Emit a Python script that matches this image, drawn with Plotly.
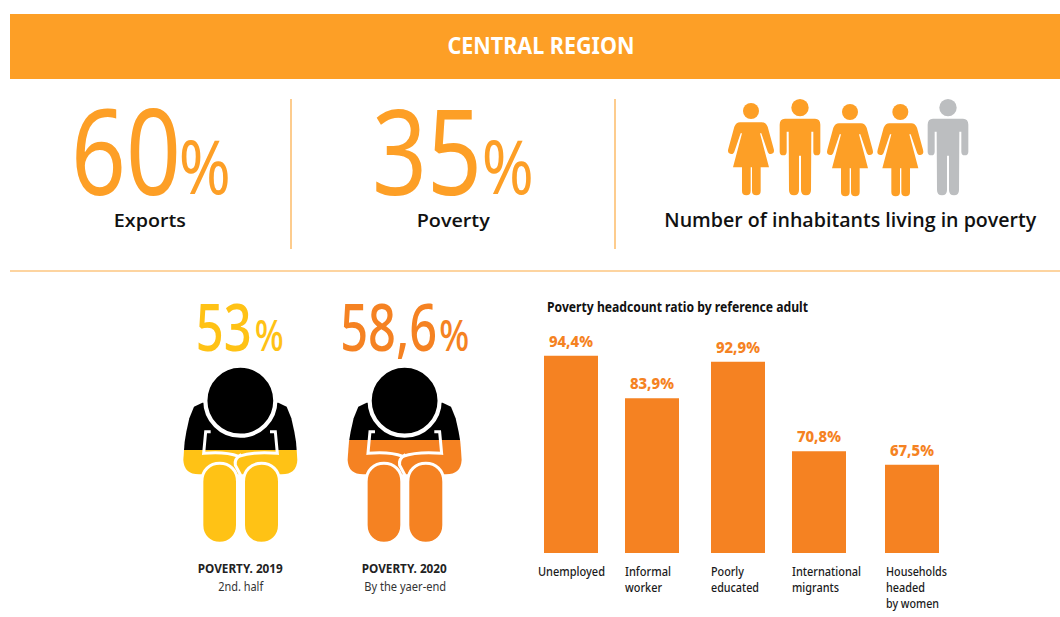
import json
import plotly.graph_objects as go

# ---------- data ----------
categories = [["Unemployed"], ["Informal", "worker"], ["Poorly", "educated"], ["International", "migrants"],
              ["Households", "headed", "by women"]]
poverty_ratio = [94.4, 83.9, 92.9, 70.8, 67.5]
ratio_labels = ["94,4%", "83,9%", "92,9%", "70,8%", "67,5%"]
headline_values = ["60", "35"]
headline_labels = ["Exports", "Poverty"]
poverty_years = ["53", "58,6"]
poverty_titles = ["POVERTY. 2019", "POVERTY. 2020"]
poverty_subtitles = ["2nd. half", "By the yaer-end"]

# ---------- layout constants (pixels) ----------
W, H = 1060, 617
ORANGE = "#FD9F26"
BAR = "#F58222"
YELLOW = "#FFC215"
GRAY = "#BCBEC0"
RULE = "#FCAA42"
NARROW = "Noto Sans"
WIDE = "Open Sans"
bar_centers = [571, 652, 738, 819, 912]
label_left = [536, 623, 709, 790, 884]
label_widths = [[67], [46, 37], [33, 48], [69, 47], [61, 39, 53]]
BASE_PX, TOP_PX = 553, 300
PX_PER_UNIT = 4.05
base_val = 45.7

fig = go.Figure()
fig.add_trace(go.Bar(
    x=bar_centers, y=poverty_ratio, width=54, marker=dict(color=BAR, line=dict(width=0)),
    yaxis="y2", hoverinfo="skip", showlegend=False))

shapes, annots, fits = [], [], []


def rect(x0, y0, x1, y1, color):
    shapes.append(dict(type="rect", xref="x", yref="y", x0=x0, y0=y0, x1=x1, y1=y1,
                       fillcolor=color, line=dict(width=0)))


def line(x0, y0, x1, y1, color=RULE, w=1.2):
    shapes.append(dict(type="line", xref="x", yref="y", x0=x0, y0=y0, x1=x1, y1=y1,
                       line=dict(color=color, width=w)))


def path(d, fill=None, stroke=None, w=0):
    shapes.append(dict(type="path", xref="x", yref="y", path=d,
                       fillcolor=fill if fill else "rgba(0,0,0,0)",
                       line=dict(color=stroke if stroke else "rgba(0,0,0,0)", width=w)))


def circle(cx, cy, r, fill, stroke=None, w=0):
    shapes.append(dict(type="circle", xref="x", yref="y", x0=cx - r, x1=cx + r, y0=cy - r, y1=cy + r,
                       fillcolor=fill, line=dict(color=stroke if stroke else "rgba(0,0,0,0)", width=w)))


def text(x, y, s, size, color, family=NARROW, weight="normal", anchor="center", fit=None):
    annots.append(dict(x=x, y=y, xref="x", yref="y", text=s, showarrow=False, xanchor=anchor,
                       yanchor="middle", align=anchor,
                       font=dict(family=family, size=size, color=color, weight=weight)))
    fits.append(fit)


def make_path(cmds, ox, oy, s=1 / 3):
    out = []
    for c in cmds:
        if c == "Z":
            out.append("Z")
            continue
        letter, nums = c[0], c[1:]
        coords = []
        for i in range(0, len(nums), 2):
            coords.append(f"{ox + nums[i] * s:.2f},{oy + nums[i + 1] * s:.2f}")
        out.append(letter + " " + " ".join(coords))
    return " ".join(out)


def woman(cz, dy, color):
    ox, oy = 720 + cz / 3, 90 + dy / 3
    d = [("M", -33, 97), ("L", 33, 97), ("Q", 44, 97, 50, 110), ("L", 68, 176), ("Q", 72, 190, 60, 192),
         ("Q", 52, 193, 49, 182), ("L", 31, 130), ("L", 27, 130), ("L", 54, 232), ("L", 29, 232), ("L", 29, 303),
         ("Q", 29, 316, 16, 316), ("Q", 3, 316, 3, 303), ("L", 3, 232), ("L", -1, 232), ("L", -1, 303),
         ("Q", -1, 316, -14, 316), ("Q", -27, 316, -27, 303), ("L", -27, 232), ("L", -54, 232), ("L", -27, 130),
         ("L", -31, 130), ("L", -49, 182), ("Q", -52, 193, -60, 192), ("Q", -72, 190, -68, 176), ("L", -50, 110),
         ("Q", -44, 97, -33, 97), "Z"]
    path(make_path(d, ox, oy), color)
    circle(ox, oy + 63 / 3, 8, color)


def man(cz, color):
    ox, oy = 720 + cz / 3, 90
    d = [("M", -45, 86), ("L", 45, 86), ("Q", 61, 86, 61, 104), ("L", 61, 185), ("Q", 61, 196, 50, 196),
         ("Q", 40, 196, 40, 185), ("L", 40, 125), ("L", 34, 125), ("L", 33, 300), ("Q", 33, 316, 18, 316),
         ("Q", 3, 316, 3, 300), ("L", 3, 197), ("L", -3, 197), ("L", -3, 300), ("Q", -3, 316, -18, 316),
         ("Q", -33, 316, -33, 300), ("L", -34, 125), ("L", -40, 125), ("L", -40, 185), ("Q", -40, 196, -50, 196),
         ("Q", -61, 196, -61, 185), ("L", -61, 104), ("Q", -61, 86, -45, 86), "Z"]
    path(make_path(d, ox, oy), color)
    circle(ox, oy + 53 / 3, 8.7, color)


LEFT_EDGE = [(97, 338), (72, 350), (58, 385), (49, 425), (44, 455), (42, 480), (40, 510)]


def edge_at(y):
    for a, b in zip(LEFT_EDGE, LEFT_EDGE[1:]):
        if a[1] <= y <= b[1]:
            t = (y - a[1]) / (b[1] - a[1])
            return a[0] + t * (b[0] - a[0])
    return LEFT_EDGE[-1][0]


def sitter(ox, color, split):
    """Coordinates are 3x zoom units, figure centred on x=211."""
    oy = 290
    mirror = lambda x: 422 - x
    xs = edge_at(split)
    upper_left = [p for p in LEFT_EDGE if p[1] < split]
    pts = upper_left + [(xs, split), (mirror(xs), split)] + [(mirror(p[0]), p[1]) for p in reversed(upper_left)]
    d = "M " + " L ".join(f"{ox + p[0] / 3:.2f},{oy + p[1] / 3:.2f}" for p in pts) + " Z"
    path(d, "#000000")
    lower_left = [p for p in LEFT_EDGE if p[1] > split]
    lo = [(xs, split), (mirror(xs), split)] + [(mirror(p[0]), p[1]) for p in lower_left]
    d = "M " + " L ".join(f"{ox + p[0] / 3:.2f},{oy + p[1] / 3:.2f}" for p in lo)
    d += f" Q {ox + 380 / 3:.2f},{oy + 553 / 3:.2f} {ox + 335 / 3:.2f},{oy + 553 / 3:.2f}"
    d += f" L {ox + 87 / 3:.2f},{oy + 553 / 3:.2f} Q {ox + 42 / 3:.2f},{oy + 553 / 3:.2f} {ox + 40 / 3:.2f},{oy + 510 / 3:.2f}"
    for p in reversed(lower_left[:-1]):
        d += f" L {ox + p[0] / 3:.2f},{oy + p[1] / 3:.2f}"
    d += " Z"
    path(d, color)
    # book outline
    book = [("M", 122, 425), ("L", 107, 425), ("L", 101, 490), ("Q", 165, 484, 206, 499), ("Q", 250, 484, 322, 490),
            ("L", 316, 425), ("L", 300, 425)]
    path(make_path(book, ox, oy), None, "#FFFFFF", 3)
    # head
    circle(ox + 211 / 3, oy + 332 / 3, 35, "#000000", "#FFFFFF", 4.2)
    # legs: stroke straddles the outline, so the path sits 1.5px outside the visible fill
    for x0, x1 in ((95.5, 202.5), (220.5, 328.5)):
        m = (x0 + x1) / 2
        r = (x1 - x0) / 2
        leg = [("M", x0, 575), ("C", x0, 540, m - r * 0.55, 520, m, 520), ("C", m + r * 0.55, 520, x1, 540, x1, 575),
               ("L", x1, 705), ("C", x1, 738, m + r * 0.55, 760, m, 760), ("C", m - r * 0.55, 760, x0, 738, x0, 705), "Z"]
        path(make_path(leg, ox, oy), color, "#FFFFFF", 3)
    # fold between thighs
    path(make_path([("M", 214, 494), ("Q", 192, 506, 196, 526), ("L", 212, 556)], ox, oy), None, "#FFFFFF", 3)


# ---------- header & rules ----------
rect(10, 14, 1060, 79, ORANGE)
text(540.5, 45, "CENTRAL REGION", 23, "#FFFFFF", NARROW, "bold", fit=187)
line(291, 99, 291, 249)
line(615, 99, 615, 249)
line(10, 271, 1060, 271)

# ---------- headlines ----------
for val, lab, xn, xp, xl, fitl in zip(headline_values, headline_labels, (125.5, 427), (204.5, 507.5), (150, 453.5),
                                      (72, 73)):
    text(xn, 149, val, 119, ORANGE, NARROW, weight=400, fit=110)
    text(xp, 165, "%", 74, ORANGE, NARROW, weight=400, fit=52)
    text(xl, 219, lab, 18.5, "#111111", WIDE, 600, fit=fitl)
text(850.5, 220, "Number of inhabitants living in poverty", 19, "#111111", WIDE, 600, fit=372)

# ---------- people ----------
woman(93, 0, ORANGE)
man(240, ORANGE)
woman(390, 3, ORANGE)
woman(541, 3, ORANGE)
man(684, GRAY)

# ---------- sitters ----------
sitter(170, YELLOW, 480)
sitter(334.3, BAR, 450)
for val, xn, xp, col, xc, ttl, sub, fv, fp, fs in zip(poverty_years, (224, 388.5), (269.5, 454), (YELLOW, BAR),
                                                      (240.5, 404.5), poverty_titles, poverty_subtitles,
                                                      (56, 97), (29, 30), (45, 82)):
    text(xn, 325, val, 66, col, NARROW, weight=500, fit=fv)
    text(xp, 334, "%", 43, col, NARROW, weight=500, fit=fp)
    text(xc, 568, ttl, 12.5, "#222222", NARROW, "bold", fit=85)
    text(xc, 586, sub, 12.5, "#333333", NARROW, fit=fs)

# ---------- chart texts ----------
text(545, 306, "Poverty headcount ratio by reference adult", 14, "#111111", NARROW, "bold", anchor="left", fit=261)
for lines, x, widths in zip(categories, label_left, label_widths):
    for i, (ln, wd) in enumerate(zip(lines, widths)):
        text(x, 571 + 16 * i, ln, 13, "#1A1A1A", NARROW, weight=500, anchor="left", fit=wd)

# value labels above the bars, positioned through the bar axis
for xc, v, lab in zip(bar_centers, poverty_ratio, ratio_labels):
    annots.append(dict(x=xc, y=v, xref="x", yref="y2", text=lab, showarrow=False, xanchor="center",
                       yanchor="bottom", yshift=2, align="center",
                       font=dict(family=NARROW, size=15.5, color=BAR, weight=800)))
    fits.append(44)

y2_top = base_val + (BASE_PX - TOP_PX) / PX_PER_UNIT
fig.update_layout(
    width=W, height=H, margin=dict(l=0, r=0, t=0, b=0), autosize=False,
    paper_bgcolor="#FFFFFF", plot_bgcolor="#FFFFFF", showlegend=False,
    xaxis=dict(range=[0, W], visible=False, fixedrange=True),
    yaxis=dict(range=[H, 0], visible=False, domain=[0, 1], fixedrange=True),
    yaxis2=dict(range=[base_val, y2_top], visible=False, anchor="x",
                domain=[(H - BASE_PX) / H, (H - TOP_PX) / H], fixedrange=True),
    shapes=shapes, annotations=annots,
)

# Reference type is condensed; no condensed face is installed, so the real text
# elements are fitted to the reference's widths.
post = """
document.body.style.margin = '0';
var fits = %s;
document.querySelectorAll('.annotation-text').forEach(function (t, i) {
  if (fits[i]) { t.setAttribute('textLength', fits[i]); t.setAttribute('lengthAdjust', 'spacingAndGlyphs'); }
});
""" % json.dumps(fits)
fig.write_html("out.html", config=dict(displayModeBar=False), post_script=post)
